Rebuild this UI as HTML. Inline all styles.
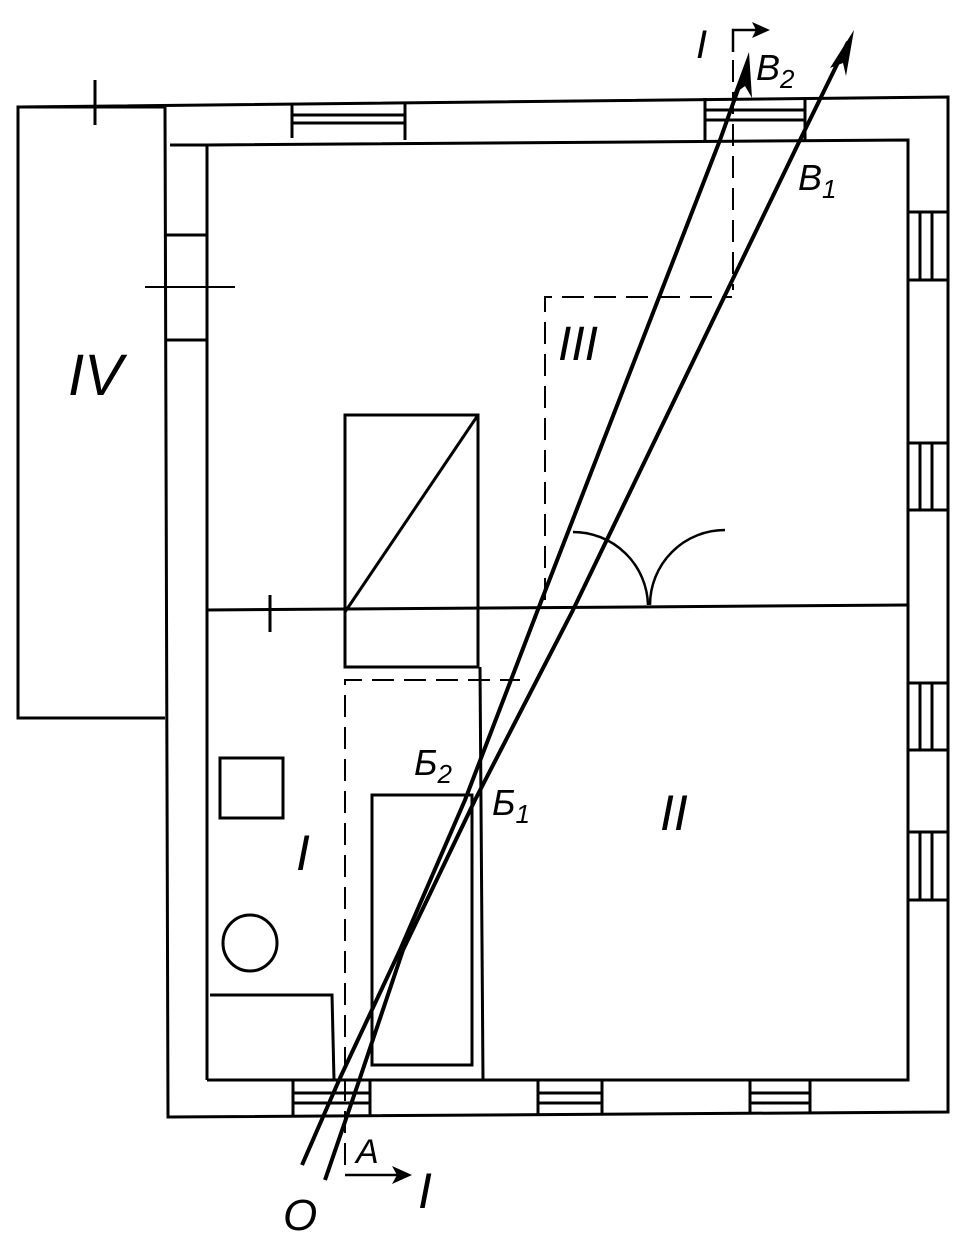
<!DOCTYPE html>
<html><head><meta charset="utf-8"><style>html,body{margin:0;padding:0;background:#fff}svg{display:block}text{font-family:"Liberation Sans",sans-serif;font-style:italic;fill:#000}</style></head><body>
<svg width="960" height="1242" viewBox="0 0 960 1242" xmlns="http://www.w3.org/2000/svg">
<g stroke="#000" stroke-width="3" fill="none">
<polyline points="165,107 18,107 18,718 165,718"/>
<line x1="95" y1="80" x2="95" y2="125"/>
<polyline points="18,107 948,97 948,1112 168,1117 165,107"/>
<polyline points="207,1080 207,145 908,140 908,1080 207,1080"/>
<line x1="170" y1="145" x2="207" y2="145"/>
<line x1="165" y1="235" x2="207" y2="235"/>
<line x1="165" y1="340" x2="207" y2="340"/>
<line x1="145" y1="287" x2="235" y2="287" stroke-width="2"/>
<line x1="292" y1="103" x2="292" y2="138"/><line x1="405" y1="103" x2="405" y2="140"/>
<line x1="292" y1="115" x2="405" y2="115"/><line x1="292" y1="123" x2="405" y2="123"/>
<line x1="705" y1="98" x2="705" y2="140"/><line x1="805" y1="98" x2="805" y2="140"/>
<line x1="705" y1="110" x2="805" y2="110"/><line x1="705" y1="120" x2="805" y2="120"/>
<g>
<path d="M908 212H948M908 280H948M920 212V280M932 212V280"/>
<path d="M908 443H948M908 510H948M920 443V510M932 443V510"/>
<path d="M908 683H948M908 750H948M920 683V750M932 683V750"/>
<path d="M908 832H948M908 900H948M920 832V900M932 832V900"/>
</g>
<path d="M293 1080V1115M370 1080V1115M293 1093H370M293 1103H370"/>
<path d="M538 1080V1115M602 1080V1115M538 1093H602M538 1103H602"/>
<path d="M750 1080V1113M810 1080V1113M750 1093H810M750 1103H810"/>
<line x1="207" y1="610" x2="908" y2="605"/>
<line x1="270" y1="595" x2="270" y2="632"/>
<rect x="345" y="415" width="133" height="252"/>
<line x1="345" y1="612" x2="478" y2="415"/>
<line x1="480" y1="667" x2="483" y2="1080"/>
<rect x="372" y="795" width="100" height="270"/>
<path d="M573 532 A75 75 0 0 1 648 605" stroke-width="2.5"/>
<path d="M650 605 A75 75 0 0 1 725 530" stroke-width="2.5"/>
<rect x="220" y="758" width="63" height="60"/>
<ellipse cx="250" cy="943" rx="27" ry="28"/>
<polyline points="210,995 332,995 334,1080"/>
</g>
<g stroke="#000" stroke-width="2" fill="none" stroke-dasharray="22,10">
<path d="M545 600V297H732"/>
<path d="M345 1165V680H520"/>
<path d="M733 60V290"/>
</g>
<g stroke="#000" stroke-width="4" fill="none" stroke-linejoin="round">
<polyline points="302,1165 340,1078 400,950 465,800 537,612 720,140 745,70"/>
<polyline points="325,1180 360,1078 403,950 475,800 572,612 800,140 848,42"/>
</g>
<polygon points="749,52 733,95 745,86 752,98" fill="#000"/>
<polygon points="854,30 830,68 843,63 846,76" fill="#000"/>
<g stroke="#000" stroke-width="2.5" fill="none">
<path d="M733 52V30H760"/>
<path d="M345 1175H400"/>
</g>
<polygon points="770,30 752,22 756,30 752,38" fill="#000"/>
<polygon points="412,1175 392,1166 397,1175 392,1184" fill="#000"/>
<text x="696" y="58" font-size="40">I</text>
<text x="756" y="80" font-size="36">B<tspan font-size="26" dy="8">2</tspan></text>
<text x="798" y="190" font-size="36">B<tspan font-size="26" dy="8">1</tspan></text>
<text x="558" y="360" font-size="48">III</text>
<text x="68" y="395" font-size="58">IV</text>
<text x="414" y="775" font-size="36">Б<tspan font-size="26" dy="8">2</tspan></text>
<text x="492" y="815" font-size="36">Б<tspan font-size="26" dy="8">1</tspan></text>
<text x="660" y="830" font-size="50">II</text>
<text x="296" y="870" font-size="50">I</text>
<text x="356" y="1163" font-size="34">A</text>
<text x="418" y="1208" font-size="50">I</text>
<text x="283" y="1230" font-size="44">O</text>
</svg>
</body></html>
